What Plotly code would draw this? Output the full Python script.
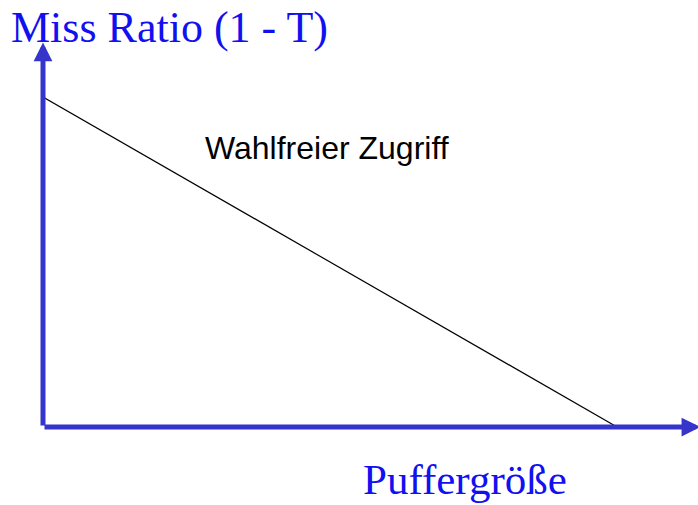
import plotly.graph_objects as go

# Daten: Puffergröße (normiert) gegen Miss Ratio
puffer = [0.0, 1.0]
miss_ratio = [1.0, 0.0]

y_label = "Miss Ratio (1 - T)"
x_label = "Puffergröße"
line_label = "Wahlfreier Zugriff"

axis_blue = "#3535CC"
text_blue = "#1010F0"

fig = go.Figure(go.Scatter(
    x=puffer, y=miss_ratio, mode="lines",
    line=dict(color="black", width=1.2),
    hoverinfo="skip", showlegend=False,
))

# Achsen als Pfeile
arrows = [
    dict(x=0, y=1.165, ax=0, ay=0),
    dict(x=1.145, y=0, ax=0, ay=0),
]
for a in arrows:
    fig.add_annotation(
        x=a["x"], y=a["y"], ax=a["ax"], ay=a["ay"],
        xref="x", yref="y", axref="x", ayref="y",
        showarrow=True, arrowhead=2, arrowsize=0.75, arrowwidth=5,
        arrowcolor=axis_blue, text="",
    )

fig.add_annotation(text=y_label, xref="paper", yref="paper",
                   x=-0.052, y=0.935, xanchor="left", yanchor="middle",
                   showarrow=False,
                   font=dict(family="Liberation Serif", size=44, color=text_blue))
fig.add_annotation(text=x_label, xref="paper", yref="paper",
                   x=0.644, y=-0.122, xanchor="center", yanchor="middle",
                   showarrow=False,
                   font=dict(family="Liberation Serif", size=43, color=text_blue))
fig.add_annotation(text=line_label, xref="paper", yref="paper",
                   x=0.434, y=0.653, xanchor="center", yanchor="middle",
                   showarrow=False,
                   font=dict(family="Liberation Sans", size=32, color="black"))

fig.update_layout(
    width=698, height=505,
    margin=dict(l=43, r=0, t=0, b=78),
    paper_bgcolor="white", plot_bgcolor="white",
    xaxis=dict(range=[0, 1.141], visible=False, fixedrange=True),
    yaxis=dict(range=[0, 1.294], visible=False, fixedrange=True),
)

fig.write_html("out.html", config={"displayModeBar": False},
               post_script="document.body.style.margin='0';")
